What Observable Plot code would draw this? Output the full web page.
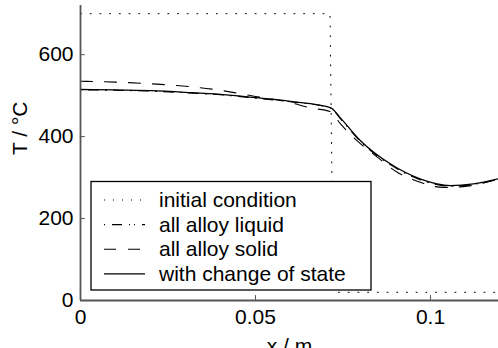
<!DOCTYPE html>
<html>
<head>
<meta charset="utf-8">
<script src="https://cdn.jsdelivr.net/npm/d3@7"></script>
<script src="https://cdn.jsdelivr.net/npm/@observablehq/plot@0.6"></script>
<style>
  html, body { margin: 0; padding: 0; background: #fff; }
  #chart { position: relative; width: 498px; height: 348px; overflow: hidden; }
  svg { font-family: "Liberation Sans", Arial, sans-serif; }
</style>
</head>
<body>
<div id="chart"></div>
<script>
// Initial condition (dotted)
const initX = [0, 0.0713, 0.0722, 0.12];
const initT = [700, 700, 20, 20];

// With change of state (solid)
const solidX = [0, 0.01, 0.02, 0.03, 0.04, 0.05, 0.06, 0.0714, 0.0743, 0.08, 0.0886, 0.097, 0.1057, 0.1123, 0.1194];
const solidT = [515, 514, 512, 508, 503, 495, 486, 471, 445, 390, 333, 297, 280.5, 284.6, 297];

// All alloy liquid (dash-dot), nearly on top of the solid curve
const liquidX = [0, 0.01, 0.02, 0.03, 0.04, 0.05, 0.06, 0.0714, 0.0743, 0.08, 0.0886, 0.097, 0.1057, 0.1123, 0.1194];
const liquidT = [514, 513, 511, 507, 502, 494, 485, 470, 443, 388, 331, 295, 279, 283.5, 296];

// All alloy solid (dashed)
const solidAlloyX = [0, 0.01, 0.02, 0.03, 0.04, 0.05, 0.06, 0.0657, 0.0714, 0.0743, 0.079, 0.0848, 0.0905, 0.0962, 0.1037, 0.1094, 0.1194];
const solidAlloyT = [535, 533, 529, 523, 513, 498, 483, 470, 461, 431, 390, 350, 313, 291, 276, 278, 297];

const xTicks = [0, 0.05, 0.1];
const yTicks = [0, 200, 400, 600];

const legendLabels = ["initial condition", "all alloy liquid", "all alloy solid", "with change of state"];
const legendDash = ["1,8", "1,7,10,7,1,4", "12,12", null];

const toRows = (xs, ts) => xs.map((x, i) => ({x, T: ts[i]}));

const axisColor = "#555";
const fs = 21;

const plot = Plot.plot({
  width: 498,
  height: 348,
  marginLeft: 80,
  marginRight: 0,
  marginTop: 5,
  marginBottom: 48,
  style: {fontFamily: '"Liberation Sans", Arial, sans-serif', background: "white"},
  x: {domain: [0, 0.12], range: [80, 500]},
  y: {domain: [0, 720], range: [300, 5]},
  marks: [
    Plot.line(toRows(initX, initT), {x: "x", y: "T", stroke: "black", strokeWidth: 1, strokeDasharray: "1,8.7"}),
    Plot.line(toRows(liquidX, liquidT), {x: "x", y: "T", curve: "monotone-x", stroke: "black", strokeWidth: 1.1, strokeDasharray: "1,7,10,7"}),
    Plot.line(toRows(solidAlloyX, solidAlloyT), {x: "x", y: "T", curve: "monotone-x", stroke: "black", strokeWidth: 1.1, strokeDasharray: "12,12"}),
    Plot.line(toRows(solidX, solidT), {x: "x", y: "T", curve: "monotone-x", stroke: "black", strokeWidth: 1.3}),
    // inward tick marks
    Plot.ruleX(xTicks, {x: d => d, y1: 0, y2: 12, stroke: axisColor, strokeWidth: 1}),
    Plot.ruleY(yTicks, {y: d => d, x1: 0, x2: 0.0014, stroke: axisColor, strokeWidth: 1}),
    Plot.axisX(xTicks, {tickSize: 0, tickPadding: 9, fontSize: fs, tickFormat: d => String(d), label: null, color: "black"}),
    Plot.axisY(yTicks, {tickSize: 0, tickPadding: 7, fontSize: fs, tickFormat: d => String(d), label: null, color: "black"}),
    Plot.ruleX([0], {stroke: axisColor, strokeWidth: 1.8}),
    Plot.ruleY([0], {stroke: axisColor, strokeWidth: 1.8}),
    Plot.text(["x / m"], {frameAnchor: "bottom", dy: 52, fontSize: fs, fill: "black"}),
    Plot.text(["T / °C"], {frameAnchor: "left", dx: -60, dy: 2, rotate: -90, fontSize: fs, fill: "black"})
  ]
});

document.getElementById("chart").appendChild(plot);

// Legend box drawn inside the plot's SVG
const svg = d3.select(plot);
const lg = svg.append("g").attr("class", "legend").attr("text-anchor", "start");
lg.append("rect")
  .attr("x", 91).attr("y", 181.5).attr("width", 280).attr("height", 108.5)
  .attr("fill", "white").attr("stroke", "black").attr("stroke-width", 1.3);
legendLabels.forEach((label, i) => {
  const base = 207 + i * 24.6;
  const ly = base - 7;
  lg.append("line")
    .attr("x1", 104).attr("x2", 145).attr("y1", ly).attr("y2", ly)
    .attr("stroke", "black").attr("stroke-width", i === 3 ? 1.3 : 1.1)
    .attr("stroke-dasharray", legendDash[i]);
  lg.append("text")
    .attr("x", 159).attr("y", base)
    .attr("font-size", fs)
    .attr("text-anchor", "start")
    .attr("font-family", '"Liberation Sans", Arial, sans-serif')
    .attr("fill", "black")
    .text(label);
});
</script>
</body>
</html>
